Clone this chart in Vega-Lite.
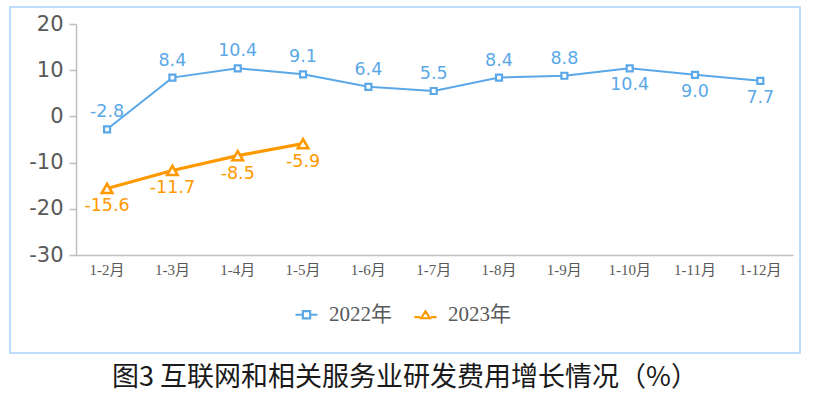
{
  "$schema": "https://vega.github.io/schema/vega-lite/v6.json",
  "width": 790,
  "height": 346,
  "autosize": {"type": "none"},
  "padding": {"left": 10, "top": 7, "right": 13, "bottom": 51},
  "background": "white",
  "config": {
    "view": {"stroke": "#a9d2fb", "strokeWidth": 1.5},
    "axis": {"grid": false, "title": null},
    "locale": {
      "number": {"decimal": ".", "thousands": ",", "grouping": [3], "currency": ["", ""], "minus": "-"}
    }
  },
  "title": {
    "text": "图3  互联网和相关服务业研发费用增长情况（%）",
    "orient": "bottom",
    "anchor": "middle",
    "offset": 12,
    "font": "Noto Sans CJK SC",
    "fontSize": 27,
    "fontWeight": "normal",
    "color": "#1a1a1a"
  },
  "data": {
    "values": [
      {"period": "1-2月", "series": "2022年", "value": -2.8},
      {"period": "1-3月", "series": "2022年", "value": 8.4},
      {"period": "1-4月", "series": "2022年", "value": 10.4},
      {"period": "1-5月", "series": "2022年", "value": 9.1},
      {"period": "1-6月", "series": "2022年", "value": 6.4},
      {"period": "1-7月", "series": "2022年", "value": 5.5},
      {"period": "1-8月", "series": "2022年", "value": 8.4},
      {"period": "1-9月", "series": "2022年", "value": 8.8},
      {"period": "1-10月", "series": "2022年", "value": 10.4},
      {"period": "1-11月", "series": "2022年", "value": 9.0},
      {"period": "1-12月", "series": "2022年", "value": 7.7},
      {"period": "1-2月", "series": "2023年", "value": -15.6},
      {"period": "1-3月", "series": "2023年", "value": -11.7},
      {"period": "1-4月", "series": "2023年", "value": -8.5},
      {"period": "1-5月", "series": "2023年", "value": -5.9}
    ]
  },
  "encoding": {
    "x": {
      "field": "period",
      "type": "ordinal",
      "sort": ["1-2月", "1-3月", "1-4月", "1-5月", "1-6月", "1-7月", "1-8月", "1-9月", "1-10月", "1-11月", "1-12月"],
      "scale": {"type": "band", "range": [64.4, 783], "paddingInner": 0, "paddingOuter": 0},
      "axis": {
        "offset": -98,
        "ticks": false,
        "domainColor": "#bfbfbf",
        "domainWidth": 1.5,
        "labelAngle": 0,
        "labelPadding": 7,
        "labelFont": "Liberation Serif, Noto Sans CJK SC",
        "labelFontSize": 15,
        "labelColor": "#595959"
      }
    },
    "y": {
      "field": "value",
      "type": "quantitative",
      "scale": {"domain": [-30, 20], "range": [248, 17], "nice": false, "zero": false},
      "axis": {
        "offset": -66,
        "values": [-30, -20, -10, 0, 10, 20],
        "format": "d",
        "tickSize": 7,
        "tickColor": "#bfbfbf",
        "tickWidth": 1.5,
        "domainColor": "#bfbfbf",
        "domainWidth": 1.5,
        "labelFont": "DejaVu Sans",
        "labelFontSize": 21,
        "labelColor": "#595959",
        "labelPadding": 6
      }
    },
    "color": {
      "field": "series",
      "type": "nominal",
      "scale": {"domain": ["2022年", "2023年"], "range": ["#5ba8e8", "#ff9900"]},
      "legend": {
        "title": null,
        "orient": "none",
        "direction": "horizontal",
        "legendX": 284,
        "legendY": 295,
        "symbolSize": 484,
        "symbolStrokeWidth": 2,
        "columnPadding": 18,
        "labelFont": "Liberation Serif, Noto Sans CJK SC",
        "labelFontSize": 21,
        "labelColor": "#595959",
        "labelOffset": 10,
        "encode": {
          "symbols": {
            "enter": {
              "fillOpacity": {"value": 0}
            },
            "update": {
              "shape": {"signal": "datum.value == '2022年' ? 'M-1,0H-0.36M0.36,0H1M-0.33,-0.33H0.33V0.33H-0.33Z' : 'M-1,0.22H-0.5M0.5,0.22H1M-0.4,0.32L0,-0.32L0.4,0.32Z'"},
              "fillOpacity": {"value": 0},
              "strokeWidth": {"value": 2.2}
            }
          }
        }
      }
    }
  },
  "layer": [
    {
      "transform": [{"filter": "datum.series == '2022年'"}],
      "mark": {"type": "line", "strokeWidth": 2}
    },
    {
      "transform": [{"filter": "datum.series == '2023年'"}],
      "mark": {"type": "line", "strokeWidth": 3.2}
    },
    {
      "transform": [{"filter": "datum.series == '2022年'"}],
      "mark": {"type": "point", "shape": "square", "filled": false, "fill": "white", "size": 36, "strokeWidth": 2.2, "opacity": 1}
    },
    {
      "transform": [{"filter": "datum.series == '2023年'"}],
      "mark": {"type": "point", "shape": "triangle-up", "filled": false, "fill": "white", "size": 110, "strokeWidth": 2.6, "opacity": 1}
    },
    {
      "transform": [{"filter": "datum.series == '2022年' && indexof(['1-10月','1-11月','1-12月'], datum.period) < 0"}],
      "mark": {"type": "text", "dy": -17, "baseline": "middle", "font": "DejaVu Sans", "fontSize": 17.5},
      "encoding": {"text": {"field": "value", "type": "quantitative", "format": ".1f"}}
    },
    {
      "transform": [{"filter": "datum.series == '2022年' && indexof(['1-10月','1-11月','1-12月'], datum.period) >= 0"}],
      "mark": {"type": "text", "dy": 17, "baseline": "middle", "font": "DejaVu Sans", "fontSize": 17.5},
      "encoding": {"text": {"field": "value", "type": "quantitative", "format": ".1f"}}
    },
    {
      "transform": [{"filter": "datum.series == '2023年'"}],
      "mark": {"type": "text", "dy": 18, "baseline": "middle", "font": "DejaVu Sans", "fontSize": 17.5},
      "encoding": {"text": {"field": "value", "type": "quantitative", "format": ".1f"}}
    }
  ]
}
